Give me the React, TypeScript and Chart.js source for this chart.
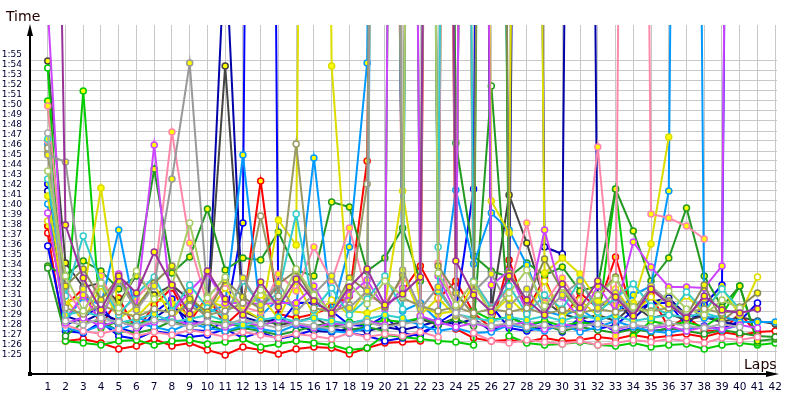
import React, { useEffect, useRef } from "react";
import { Chart, registerables } from "chart.js";

Chart.register(...registerables);

// Lap numbers (x-axis categories)
const laps = [1,2,3,4,5,6,7,8,9,10,11,12,13,14,15,16,17,18,19,20,21,22,23,24,25,26,27,28,29,30,31,32,33,34,35,36,37,38,39,40,41,42];
// Y tick values in seconds (1:25 .. 1:55)
const timeTicks = [85,86,87,88,89,90,91,92,93,94,95,96,97,98,99,100,101,102,103,104,105,106,107,108,109,110,111,112,113,114,115];

// Lap times in seconds, one list per driver (values far above 1:55 = pit / incident laps)
const redB = [96.8,86.0,86.2,85.8,85.2,85.5,86.2,85.5,85.8,85.1,84.6,85.4,85.1,84.7,85.2,85.4,85.3,84.7,85.3,85.8,85.9,86.0,290,87.2,86.3,86.0,86.1,85.9,86.3,86.0,86.1,86.4,86.2,86.6,86.3,86.5,86.7,86.4,86.9,86.6,86.9,87.0];
const redA = [97.5,89.6,91.2,87.5,90.3,87.0,89.6,91.3,87.9,90.5,87.6,89.2,102.0,88.7,88.3,88.7,89.4,90.5,104.0,260,91.0,93.5,90.2,92.0,88.8,87.3,94.1,89.0,92.3,88.1,90.8,89.3,94.4,88.6,90.6,87.3,88.4,87.1,86.9,88.8,86.7,null];
const blueA = [101.7,87.6,88.4,89.5,87.3,86.8,88.8,90.2,87.1,87.0,88.0,97.8,320,87.5,89.8,89.8,89.0,87.6,87.5,88.5,86.8,86.5,87.8,88.9,101.2,300,88.6,87.5,88.0,86.9,88.3,87.2,87.6,89.0,89.8,89.8,87.5,89.6,91.6,300,null,null];
const blueB = [95.5,87.0,86.8,87.9,86.5,86.2,87.0,86.7,86.4,86.6,87.2,86.3,86.9,86.2,86.6,87.1,87.3,86.8,86.5,86.0,86.3,86.8,87.6,88.1,300,89.5,87.3,87.0,87.4,87.2,87.8,88.0,86.9,87.3,87.0,87.2,87.1,87.5,87.2,88.0,89.8,null];
const navy = [101.0,88.5,87.9,88.8,88.0,87.5,88.3,89.5,88.1,87.6,126,88.4,87.9,88.2,87.6,87.0,86.9,87.2,87.0,87.4,87.1,87.5,88.0,87.7,88.2,87.0,88.0,300,95.4,94.7,300,89.5,90.0,88.2,89.9,90.3,88.6,88.4,87.9,87.6,null,null];
const lightBlueA = [105.7,88.0,90.4,89.6,97.1,88.3,87.9,88.5,89.9,88.8,89.6,104.6,88.5,90.2,89.3,104.3,88.7,95.4,113.8,300,89.0,89.8,88.0,101.1,93.7,98.8,97.1,93.6,89.0,88.5,89.2,88.0,88.7,90.6,91.5,101.0,300,88.3,88.5,87.9,87.9,87.9];
const lightBlueB = [99.7,87.3,86.9,87.6,87.1,87.8,87.4,87.0,87.8,87.3,87.0,87.5,87.2,86.9,87.6,87.3,87.0,86.8,87.3,300,88.2,87.6,87.0,87.3,86.8,86.9,87.6,87.3,87.0,87.7,86.9,87.4,88.0,87.4,87.0,86.8,87.2,87.4,87.1,87.6,null,null];
const cyanA = [106.2,88.6,89.0,88.4,87.8,88.2,88.7,87.9,88.2,88.6,88.0,87.6,88.1,88.4,87.9,88.3,88.0,87.7,88.2,88.6,88.3,300,91.0,88.7,88.3,88.0,88.4,88.1,88.5,88.0,88.6,88.2,88.5,88.0,88.3,88.6,88.4,88.8,88.3,null,null,null];
const cyanB = [102.2,90.5,96.5,91.8,88.6,90.7,92.4,89.0,91.6,89.3,88.4,92.0,89.5,90.8,98.7,89.1,91.3,88.6,90.2,92.5,89.2,300,95.4,300,92.0,89.3,91.5,88.7,90.6,89.2,92.1,88.9,90.3,91.7,89.5,88.6,90.9,89.0,91.2,89.2,null,null];
const greenA = [110.0,87.5,111.0,87.3,88.0,87.6,88.2,87.9,87.5,88.0,87.8,87.4,87.6,88.0,87.8,87.2,87.5,87.9,87.6,88.1,87.9,88.3,88.0,300,89.0,88.1,88.4,87.6,88.0,87.5,87.9,87.6,101.2,86.5,88.0,87.6,87.9,87.4,88.6,91.5,85.8,null];
const greenB = [113.3,86.0,85.8,85.6,86.0,86.1,85.6,86.0,86.1,85.7,85.9,86.2,85.4,85.7,86.0,85.8,85.6,85.1,85.3,86.6,86.4,86.2,86.0,85.9,85.6,300,86.5,85.8,85.6,85.7,85.9,85.6,85.5,85.8,85.4,85.6,85.7,85.2,85.6,85.8,85.6,85.8];
const darkGreenA = [93.5,92.5,94.0,93.0,91.2,92.5,103.2,92.8,94.4,99.2,93.1,94.3,94.1,96.9,93.1,92.5,99.9,99.4,93.0,94.3,97.3,92.0,300,105.8,94.5,93.0,92.4,93.8,92.6,93.4,91.0,91.5,101.2,97.0,92.0,94.3,99.3,92.5,89.4,91.5,86.0,86.2];
const darkGreenB = [93.3,86.5,87.9,88.0,87.0,86.8,87.2,88.0,87.4,87.8,86.9,87.3,87.0,86.6,87.0,87.5,87.8,87.1,87.4,87.0,300,88.5,87.6,88.2,87.5,111.5,87.9,87.2,87.6,87.0,87.4,87.1,86.8,87.2,86.9,87.3,87.0,86.7,87.1,86.8,86.5,86.4];
const yellowA = [100.5,89.8,90.5,101.3,89.0,88.4,90.2,89.7,88.5,90.0,89.4,89.2,88.2,98.1,95.6,300,113.5,89.0,88.8,89.5,101.0,89.5,88.7,89.0,300,100.0,96.8,300,92.8,94.3,92.7,90.0,89.5,89.8,95.7,106.4,null,null,null,null,null,null];
const yellowB = [98.0,90.2,88.0,91.5,88.2,89.5,91.7,88.2,90.4,88.7,91.3,88.9,90.6,88.2,92.0,88.5,90.1,88.6,91.2,300,92.8,88.6,90.3,88.5,91.7,88.7,90.3,88.6,92.0,88.4,90.1,88.5,91.2,88.7,90.4,88.9,90.5,88.8,91.3,88.6,92.4,null];
const oliveA = [104.8,91.5,93.2,90.1,92.4,89.3,91.8,93.5,90.2,88.9,92.1,90.4,89.2,91.7,93.0,90.1,88.7,92.3,91.0,89.4,92.6,300,93.5,90.8,88.6,300,92.8,90.1,94.2,91.0,88.9,90.6,92.4,89.1,91.3,90.0,88.5,91.6,88.0,89.4,90.8,null];
const oliveB = [105.3,89.3,88.7,89.6,88.9,88.4,89.2,88.8,89.5,88.6,89.0,89.8,98.5,90.5,105.7,89.3,88.9,89.6,101.7,300,90.3,89.5,89.0,89.4,88.8,89.2,88.9,89.3,88.7,89.1,88.8,89.2,88.9,89.4,89.0,89.3,88.9,89.2,88.8,89.1,null,null];
const grayA = [104.6,103.9,91.2,88.5,92.0,89.1,91.5,102.2,113.8,90.5,88.4,92.3,89.6,91.8,88.9,90.7,92.5,89.3,91.0,300,93.1,89.2,91.4,88.6,90.9,92.7,89.5,91.2,88.8,90.6,92.0,89.3,90.8,88.7,91.5,89.9,88.4,90.2,null,null,null,null];
const grayB = [106.8,88.0,87.6,88.3,87.9,87.5,88.1,87.8,87.4,87.9,87.6,88.2,87.7,87.3,87.8,87.5,87.2,87.6,87.9,87.4,87.7,88.0,300,88.8,87.9,87.5,87.8,87.4,87.6,87.2,87.5,87.7,87.3,87.6,87.4,87.8,87.5,87.3,87.7,87.4,null,null];
const darkGray = [114.0,93.8,91.4,91.8,89.8,92.6,90.6,91.6,90.1,88.3,113.5,89.0,88.2,87.6,87.9,88.4,87.3,87.8,88.1,87.5,87.9,88.2,87.6,88.3,300,89.1,100.6,95.8,90.0,88.7,88.2,88.6,88.0,89.6,88.3,88.7,88.1,88.5,87.9,88.4,88.0,87.7];
const pinkA = [109.5,91.2,88.7,92.5,88.9,90.3,92.1,106.9,95.8,89.6,91.8,89.4,88.9,92.7,91.0,95.4,92.0,97.3,90.5,89.8,92.2,300,93.8,89.5,92.0,89.4,91.2,97.8,89.8,92.3,89.5,105.4,86.5,300,98.7,98.3,97.5,96.2,null,null,null,null];
const pinkB = [106.0,87.6,87.0,86.7,87.2,86.5,86.9,86.6,87.1,86.8,86.4,86.9,86.6,86.3,86.7,86.5,86.2,86.8,86.4,86.7,86.5,86.9,86.4,300,86.8,86.0,85.8,86.1,85.9,85.7,86.0,85.6,85.8,86.1,85.9,86.2,86.0,85.8,86.3,86.1,86.4,null];
const violetA = [119.4,88.2,90.6,87.9,92.7,89.4,105.6,88.8,91.0,92.8,89.8,89.8,89.7,89.8,89.8,91.5,88.4,90.6,92.1,89.2,91.3,300,92.5,88.8,300,91.6,93.0,88.9,97.1,90.4,88.2,91.5,89.0,95.9,93.4,91.4,91.4,91.3,93.5,300,null,null];
const violetB = [98.8,87.8,88.3,87.5,88.0,87.3,87.9,88.2,87.6,88.0,87.4,87.9,87.5,88.1,87.7,87.3,87.8,87.5,88.0,87.6,300,88.5,87.9,87.4,87.8,87.3,87.6,87.9,87.2,87.7,87.4,87.8,87.1,87.6,87.3,87.5,87.0,87.4,87.2,87.6,87.3,null];
const purpleA = [200,97.6,92.3,89.1,92.5,90.8,94.9,91.6,88.7,93.0,90.2,88.6,91.9,89.4,92.2,90.0,88.8,91.4,93.2,89.6,90.7,92.4,300,94.0,90.6,88.9,92.5,90.1,88.6,91.7,89.3,92.0,90.4,88.5,91.2,89.7,88.3,90.5,89.1,88.8,89.2,null];
const lightGreen = [103.0,92.5,89.0,91.8,89.3,93.0,90.2,91.5,97.8,90.3,92.4,88.7,91.1,89.5,93.2,90.6,88.9,91.8,89.7,92.0,90.5,300,92.8,89.6,91.9,88.7,90.8,93.1,89.5,91.4,88.9,90.6,92.2,89.4,88.8,91.0,89.2,88.6,90.1,89.3,null,null];

const YEL = "#ffff00";
const WHT = "#ffffff";

const drivers = [
  { name: "Purple A", color: "#993399", fill: YEL, data: purpleA },
  { name: "Light green", color: "#aacc66", fill: WHT, data: lightGreen },
  { name: "Gray B", color: "#aaaaaa", fill: WHT, data: grayB },
  { name: "Gray A", color: "#999999", fill: YEL, data: grayA },
  { name: "Olive B", color: "#999966", fill: WHT, data: oliveB },
  { name: "Olive A", color: "#888855", fill: YEL, data: oliveA },
  { name: "Cyan B", color: "#33cccc", fill: WHT, data: cyanB },
  { name: "Cyan A", color: "#33cccc", fill: YEL, data: cyanA },
  { name: "Violet B", color: "#cc44ff", fill: WHT, data: violetB },
  { name: "Violet A", color: "#cc44ff", fill: YEL, data: violetA },
  { name: "Pink B", color: "#ff88aa", fill: WHT, data: pinkB },
  { name: "Pink A", color: "#ff88aa", fill: YEL, data: pinkA },
  { name: "Yellow B", color: "#dddd00", fill: WHT, data: yellowB },
  { name: "Yellow A", color: "#dddd00", fill: YEL, data: yellowA },
  { name: "Light blue B", color: "#0099ff", fill: WHT, data: lightBlueB },
  { name: "Light blue A", color: "#0099ff", fill: YEL, data: lightBlueA },
  { name: "Dark green B", color: "#229922", fill: WHT, data: darkGreenB },
  { name: "Dark green A", color: "#229922", fill: YEL, data: darkGreenA },
  { name: "Green A", color: "#00cc00", fill: YEL, data: greenA },
  { name: "Green B", color: "#00cc00", fill: WHT, data: greenB },
  { name: "Dark gray", color: "#444444", fill: YEL, data: darkGray },
  { name: "Navy", color: "#0000aa", fill: WHT, data: navy },
  { name: "Blue B", color: "#0000ff", fill: WHT, data: blueB },
  { name: "Blue A", color: "#0000ff", fill: YEL, data: blueA },
  { name: "Red A", color: "#ff0000", fill: YEL, data: redA },
  { name: "Red B", color: "#ff0000", fill: WHT, data: redB },
];

function fmtTime(v: number): string {
  const m = Math.floor(v / 60);
  const s = Math.round(v - m * 60);
  return `${m}:${String(s).padStart(2, "0")}`;
}

const decorPlugin = {
  id: "decor",
  afterDraw(chart: any) {
    const { ctx, chartArea: a } = chart;
    ctx.save();
    ctx.strokeStyle = "#000";
    ctx.fillStyle = "#000";
    ctx.lineWidth = 2;
    ctx.beginPath();
    ctx.moveTo(a.left, a.bottom);
    ctx.lineTo(a.left, a.top + 8);
    ctx.stroke();
    ctx.beginPath();
    ctx.moveTo(a.left, a.top - 1);
    ctx.lineTo(a.left - 3, a.top + 11);
    ctx.lineTo(a.left + 3, a.top + 11);
    ctx.closePath();
    ctx.fill();
    ctx.beginPath();
    ctx.moveTo(a.left, a.bottom);
    ctx.lineTo(a.right - 8, a.bottom);
    ctx.stroke();
    ctx.beginPath();
    ctx.moveTo(a.right + 2, a.bottom);
    ctx.lineTo(a.right - 11, a.bottom - 3);
    ctx.lineTo(a.right - 11, a.bottom + 3);
    ctx.closePath();
    ctx.fill();
    ctx.fillRect(a.left - 2, a.bottom - 2, 4, 4);
    ctx.fillStyle = "#200000";
    ctx.font = "14px 'DejaVu Sans'";
    ctx.textBaseline = "alphabetic";
    ctx.textAlign = "left";
    ctx.fillText("Time", 6, 21);
    ctx.fillText("Laps", a.right - 33, a.bottom - 5);
    ctx.restore();
  },
};

export default function App() {
  const ref = useRef<HTMLCanvasElement | null>(null);

  useEffect(() => {
    if (!ref.current) return;
    const datasets = drivers.map((d) => ({
      label: d.name,
      data: laps.map((lap, i) => ({ x: lap, y: d.data[i] })),
      borderColor: d.color,
      backgroundColor: d.fill,
      borderWidth: 2,
      pointRadius: 3,
      pointBorderWidth: 1.5,
      pointBorderColor: d.color,
      pointBackgroundColor: d.fill,
      tension: 0,
      spanGaps: false,
    }));

    const chart = new Chart(ref.current, {
      type: "line",
      data: { datasets },
      options: {
        responsive: false,
        animation: false,
        devicePixelRatio: 1,
        parsing: false,
        normalized: true,
        layout: { padding: { top: 25, right: 23, left: 0, bottom: 0 } },
        plugins: { legend: { display: false }, tooltip: { enabled: false } },
        scales: {
          x: {
            type: "linear",
            min: 0,
            max: 42.1,
            border: { display: false },
            grid: { color: "#c8c8c8", lineWidth: 1, drawTicks: false },
            afterBuildTicks: (scale: any) => {
              scale.ticks = laps.map((v) => ({ value: v }));
            },
            afterFit: (scale: any) => {
              scale.height = 26;
            },
            ticks: {
              autoSkip: false,
              maxRotation: 0,
              padding: 7,
              color: "#000033",
              font: { family: "'DejaVu Sans'", size: 10.5 },
              callback: (v: any) => String(v),
            },
          },
          y: {
            type: "linear",
            min: 82.7,
            max: 117.6,
            border: { display: false },
            grid: {
              drawTicks: false,
              lineWidth: 1,
              color: (c: any) => (c.tick && c.tick.value === 115 ? "rgba(0,0,0,0)" : "#c8c8c8"),
            },
            afterBuildTicks: (scale: any) => {
              scale.ticks = timeTicks.map((v) => ({ value: v }));
            },
            afterFit: (scale: any) => {
              scale.width = 30;
            },
            ticks: {
              autoSkip: false,
              padding: 8,
              labelOffset: 4,
              color: "#000033",
              font: { family: "'DejaVu Sans'", size: 9 },
              callback: (v: any) => fmtTime(Number(v)),
            },
          },
        },
      },
      plugins: [decorPlugin],
    });
    return () => chart.destroy();
  }, []);

  return (
    <div style={{ position: "fixed", left: 0, top: 0, width: 800, height: 400, background: "#fff" }}>
      <canvas ref={ref} width={800} height={400} style={{ width: 800, height: 400, display: "block" }} />
    </div>
  );
}
